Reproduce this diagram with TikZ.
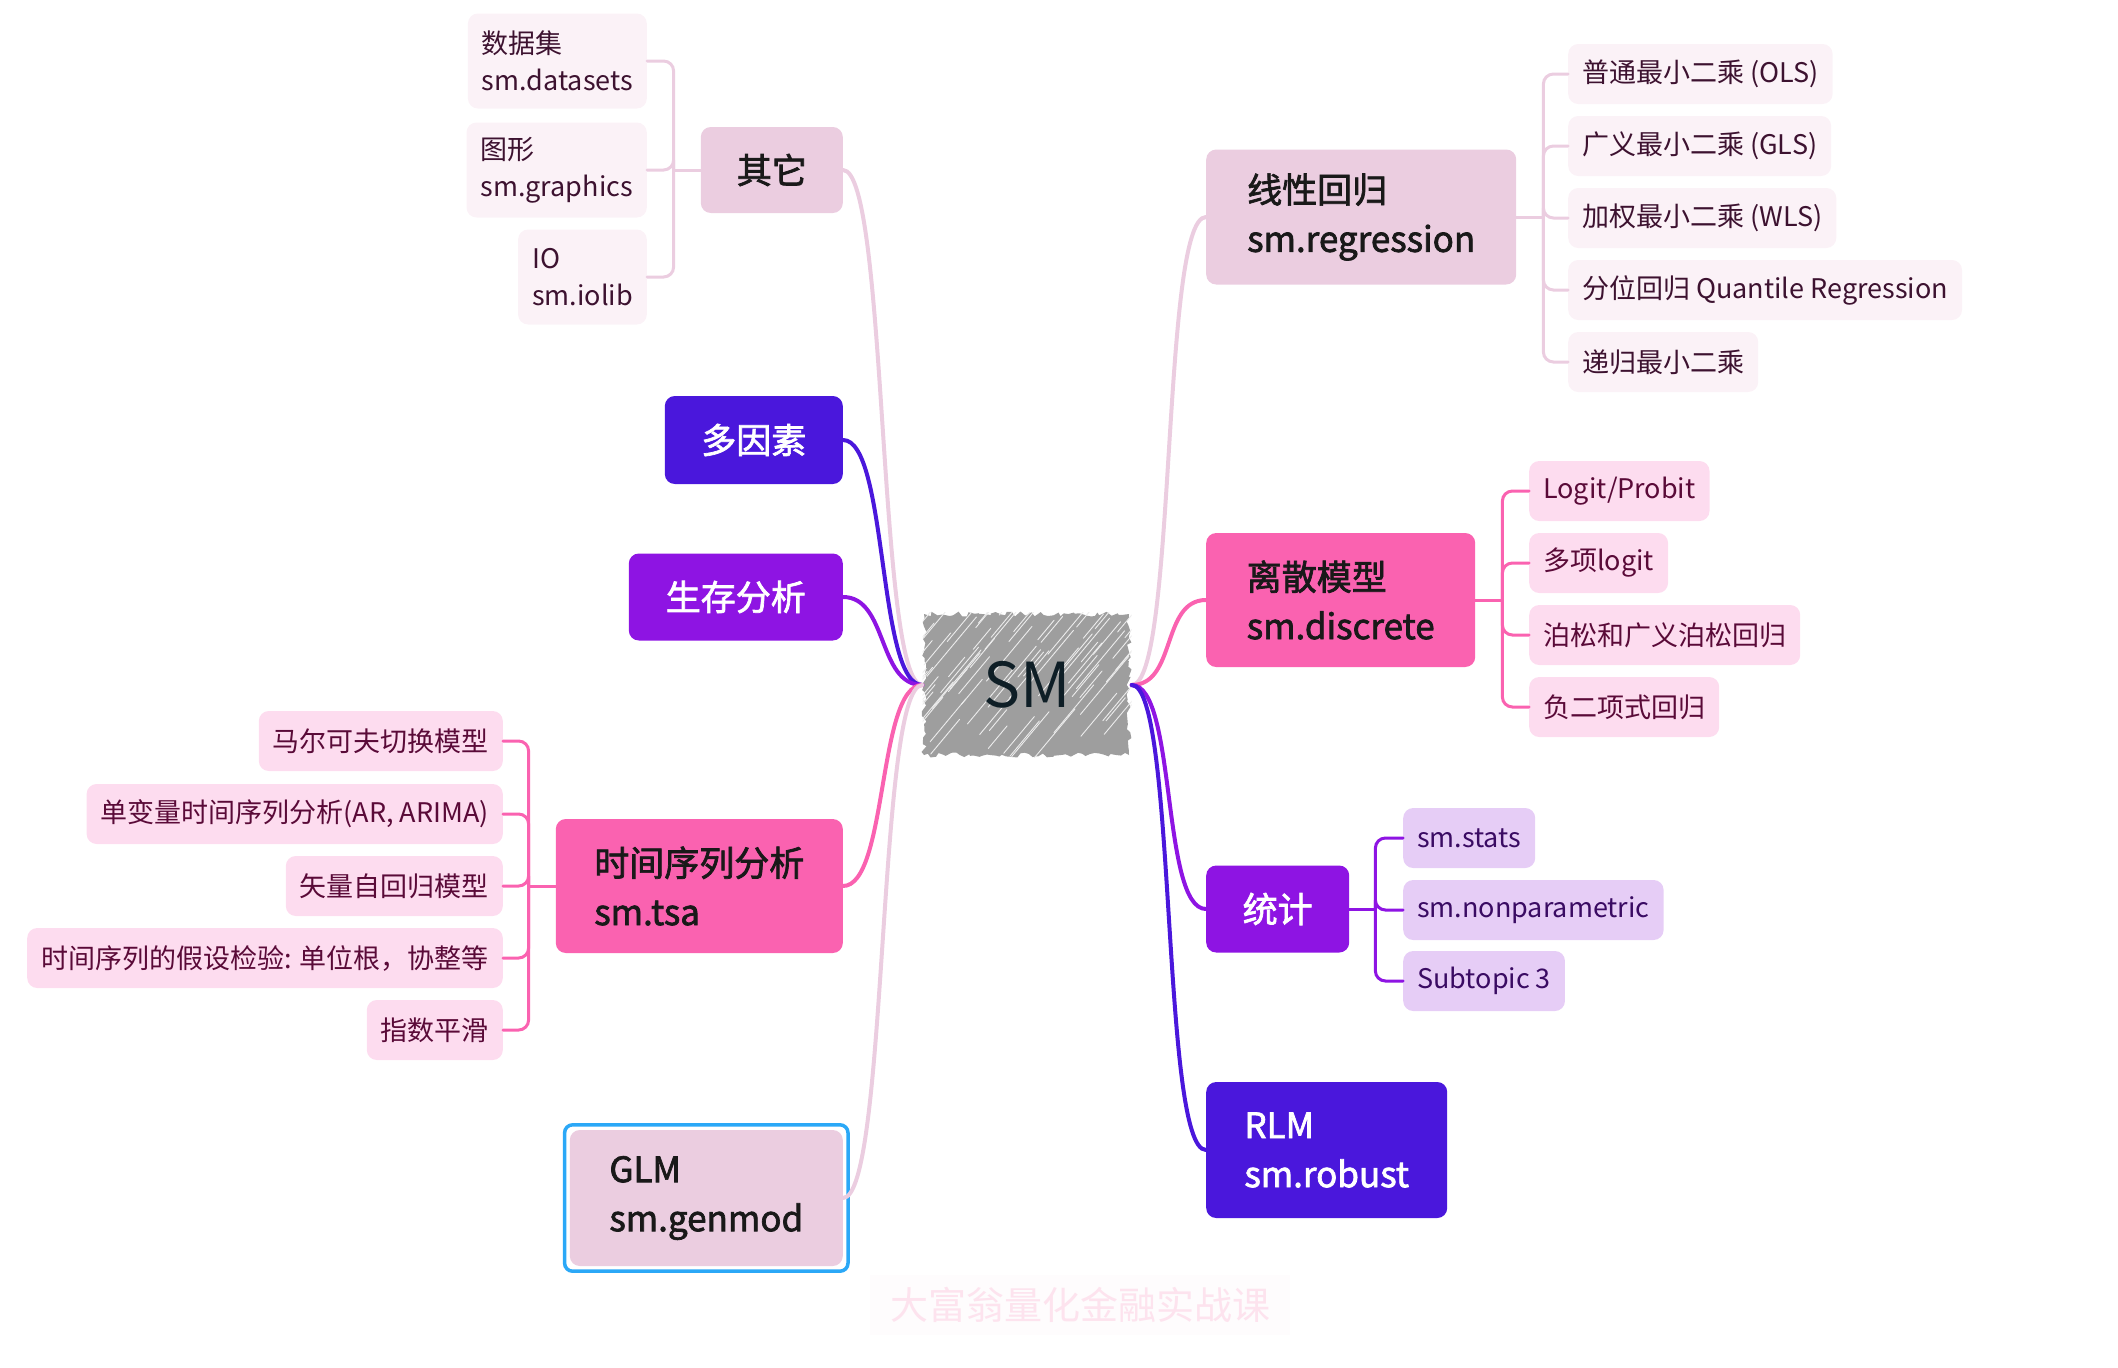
\documentclass[tikz,border=0pt]{standalone}
\usepackage{fontspec}
\setmainfont{Noto Sans CJK SC}
\newfontfamily\topicfont{Noto Sans CJK SC}[FakeBold=2]
\usetikzlibrary{decorations.pathmorphing}

\definecolor{lilac}{HTML}{EBCDE0}
\definecolor{lilacleaf}{HTML}{FBF2F7}
\definecolor{lilactext}{HTML}{3D1230}
\definecolor{rose}{HTML}{FA62B0}
\definecolor{roseleaf}{HTML}{FDDCEF}
\definecolor{rosetext}{HTML}{5A0A38}
\definecolor{purp}{HTML}{8E14E3}
\definecolor{purpleaf}{HTML}{E6CDF6}
\definecolor{purptext}{HTML}{3A0B63}
\definecolor{indigo}{HTML}{4A17DC}
\definecolor{smgray}{HTML}{9E9E9E}
\definecolor{smtext}{HTML}{0E1E26}
\definecolor{selblue}{HTML}{2BA8F7}
\definecolor{stamp}{HTML}{FDE3EE}
\definecolor{stampbg}{HTML}{FEFCFD}

\begin{document}
\begin{tikzpicture}[x=1pt, y=-1pt, line cap=round]
    \tikzstyle{central}=[minimum width=209pt, minimum height=145pt, text=smtext, font=\fontsize{62}{70}\selectfont]
    \tikzstyle{topic}=[rounded corners=10pt, inner sep=0pt, align=left, text=black!90, font=\fontsize{35}{49}\topicfont]
    \tikzstyle{righttopic}=[topic, anchor=west]
    \tikzstyle{lefttopic}=[topic, anchor=east]
    \tikzstyle{leaf}=[rounded corners=10pt, inner xsep=14pt, minimum height=60pt, align=left, font=\fontsize{27}{37}\selectfont]
    \tikzstyle{branch}=[line width=4pt]
    \tikzstyle{twig}=[line width=3pt, rounded corners=10pt]

    \useasboundingbox (0,0) rectangle (2118,1368);
    \pgfmathsetseed{7}

    % Central topic: rough grey fill, then streaks
    \fill[smgray, decorate, decoration={random steps, segment length=4pt, amplitude=2.5pt}] (924,614) rectangle (1129,755);
    \node[central, path picture={
        \foreach \k in {1,...,90} {
            \pgfmathsetmacro\hx{rnd*280-60}
            \pgfmathsetmacro\hy{rnd*150}
            \pgfmathsetmacro\hl{15+rnd*35}
            \draw[white!80!smgray, line width=0.9pt] ([shift={(\hx pt,-\hy pt)}]path picture bounding box.north west) -- ++(\hl pt,1.2*\hl pt);
        }
    }] (SM) at (1027,685) {SM};

    % Main topics on the right
    \node[righttopic, fill=lilac, minimum width=310pt, minimum height=135pt] (REG) at (1206,217) {线性回归\\sm.regression};
    \node[righttopic, fill=rose, minimum width=269pt, minimum height=134pt] (DIS) at (1206,600) {离散模型\\sm.discrete};
    \node[righttopic, fill=purp, text=white, minimum width=143pt, minimum height=87pt] (STA) at (1206,909) {统计};
    \node[righttopic, fill=indigo, text=white, minimum width=241pt, minimum height=136pt] (RLM) at (1206,1150) {RLM\\sm.robust};

    % Main topics on the left
    \node[lefttopic, fill=lilac, minimum width=142pt, minimum height=86pt] (OTH) at (843,170) {其它};
    \node[lefttopic, fill=indigo, text=white, minimum width=178pt, minimum height=88pt] (MUL) at (843,440) {多因素};
    \node[lefttopic, fill=purp, text=white, minimum width=214pt, minimum height=87pt] (SUR) at (843,597) {生存分析};
    \node[lefttopic, fill=rose, minimum width=287pt, minimum height=134pt] (TSA) at (843,886) {时间序列分析\\sm.tsa};
    \node[lefttopic, fill=lilac, minimum width=273pt, minimum height=136pt] (GLM) at (843,1198) {GLM\\sm.genmod};
    \draw[selblue, line width=3.5pt, rounded corners=8pt] ([shift={(-5pt,-5pt)}]GLM.south west) rectangle ([shift={(5pt,5pt)}]GLM.north east);

    % Connect central topic to main topics
    \foreach \dest/\col in {REG/lilac, DIS/rose, STA/purp, RLM/indigo}
        \draw[branch, \col] (SM.east) .. controls +(45,0) and +(-45,0) .. (\dest.west);
    \foreach \dest/\col in {OTH/lilac, MUL/indigo, SUR/purp, TSA/rose, GLM/lilac}
        \draw[branch, \col] (SM.west) .. controls +(-45,0) and +(45,0) .. (\dest.east);

    % Leaves of 线性回归
    \foreach \n/\y/\txt in {1/74/{普通最小二乘 (OLS)}, 2/146/{广义最小二乘 (GLS)}, 3/218/{加权最小二乘 (WLS)}, 4/290/{分位回归 Quantile Regression}, 5/362/{递归最小二乘}}
        \node[leaf, fill=lilacleaf, text=lilactext, anchor=west] (REG-\n) at (1568,\y) {\txt};
    \coordinate (REG-b) at ([xshift=27pt]REG.east);
    \draw[twig, lilac] (REG.east) -- (REG-b);
    \foreach \n in {1,...,5}
        \draw[twig, lilac] (REG-b) |- (REG-\n.west);

    % Leaves of 离散模型
    \foreach \n/\y/\txt in {1/491/{Logit/Probit}, 2/563/{多项logit}, 3/635/{泊松和广义泊松回归}, 4/707/{负二项式回归}}
        \node[leaf, fill=roseleaf, text=rosetext, anchor=west] (DIS-\n) at (1529,\y) {\txt};
    \coordinate (DIS-b) at ([xshift=27pt]DIS.east);
    \draw[twig, rose] (DIS.east) -- (DIS-b);
    \foreach \n in {1,...,4}
        \draw[twig, rose] (DIS-b) |- (DIS-\n.west);

    % Leaves of 统计
    \foreach \n/\y/\txt in {1/838/{sm.stats}, 2/910/{sm.nonparametric}, 3/981/{Subtopic 3}}
        \node[leaf, fill=purpleaf, text=purptext, anchor=west] (STA-\n) at (1403,\y) {\txt};
    \coordinate (STA-b) at ([xshift=26pt]STA.east);
    \draw[twig, purp] (STA.east) -- (STA-b);
    \foreach \n in {1,...,3}
        \draw[twig, purp] (STA-b) |- (STA-\n.west);

    % Leaves of 时间序列分析
    \foreach \n/\y/\txt in {1/741/{马尔可夫切换模型}, 2/814/{单变量时间序列分析(AR, ARIMA)}, 3/886/{矢量自回归模型}, 4/958/{时间序列的假设检验: 单位根，协整等}, 5/1030/{指数平滑}}
        \node[leaf, fill=roseleaf, text=rosetext, anchor=east] (TSA-\n) at (503,\y) {\txt};
    \coordinate (TSA-b) at ([xshift=-27pt]TSA.west);
    \draw[twig, rose] (TSA.west) -- (TSA-b);
    \foreach \n in {1,...,5}
        \draw[twig, rose] (TSA-b) |- (TSA-\n.east);

    % Leaves of 其它
    \foreach \n/\y/\txt in {1/61/{数据集\\sm.datasets}, 2/170/{图形\\sm.graphics}, 3/277/{IO\\sm.iolib}}
        \node[leaf, fill=lilacleaf, text=lilactext, anchor=east, minimum height=95pt] (OTH-\n) at (647,\y) {\txt};
    \coordinate (OTH-b) at ([xshift=-27pt]OTH.west);
    \draw[twig, lilac] (OTH.west) -- (OTH-b);
    \foreach \n in {1,...,3}
        \draw[twig, lilac] (OTH-b) |- (OTH-\n.east);

    % Watermark
    \node[fill=stampbg, text=stamp, inner xsep=20pt, inner ysep=12pt, font=\fontsize{38}{40}\selectfont] (WM) at (1080,1305) {大富翁量化金融实战课};
\end{tikzpicture}
\end{document}
